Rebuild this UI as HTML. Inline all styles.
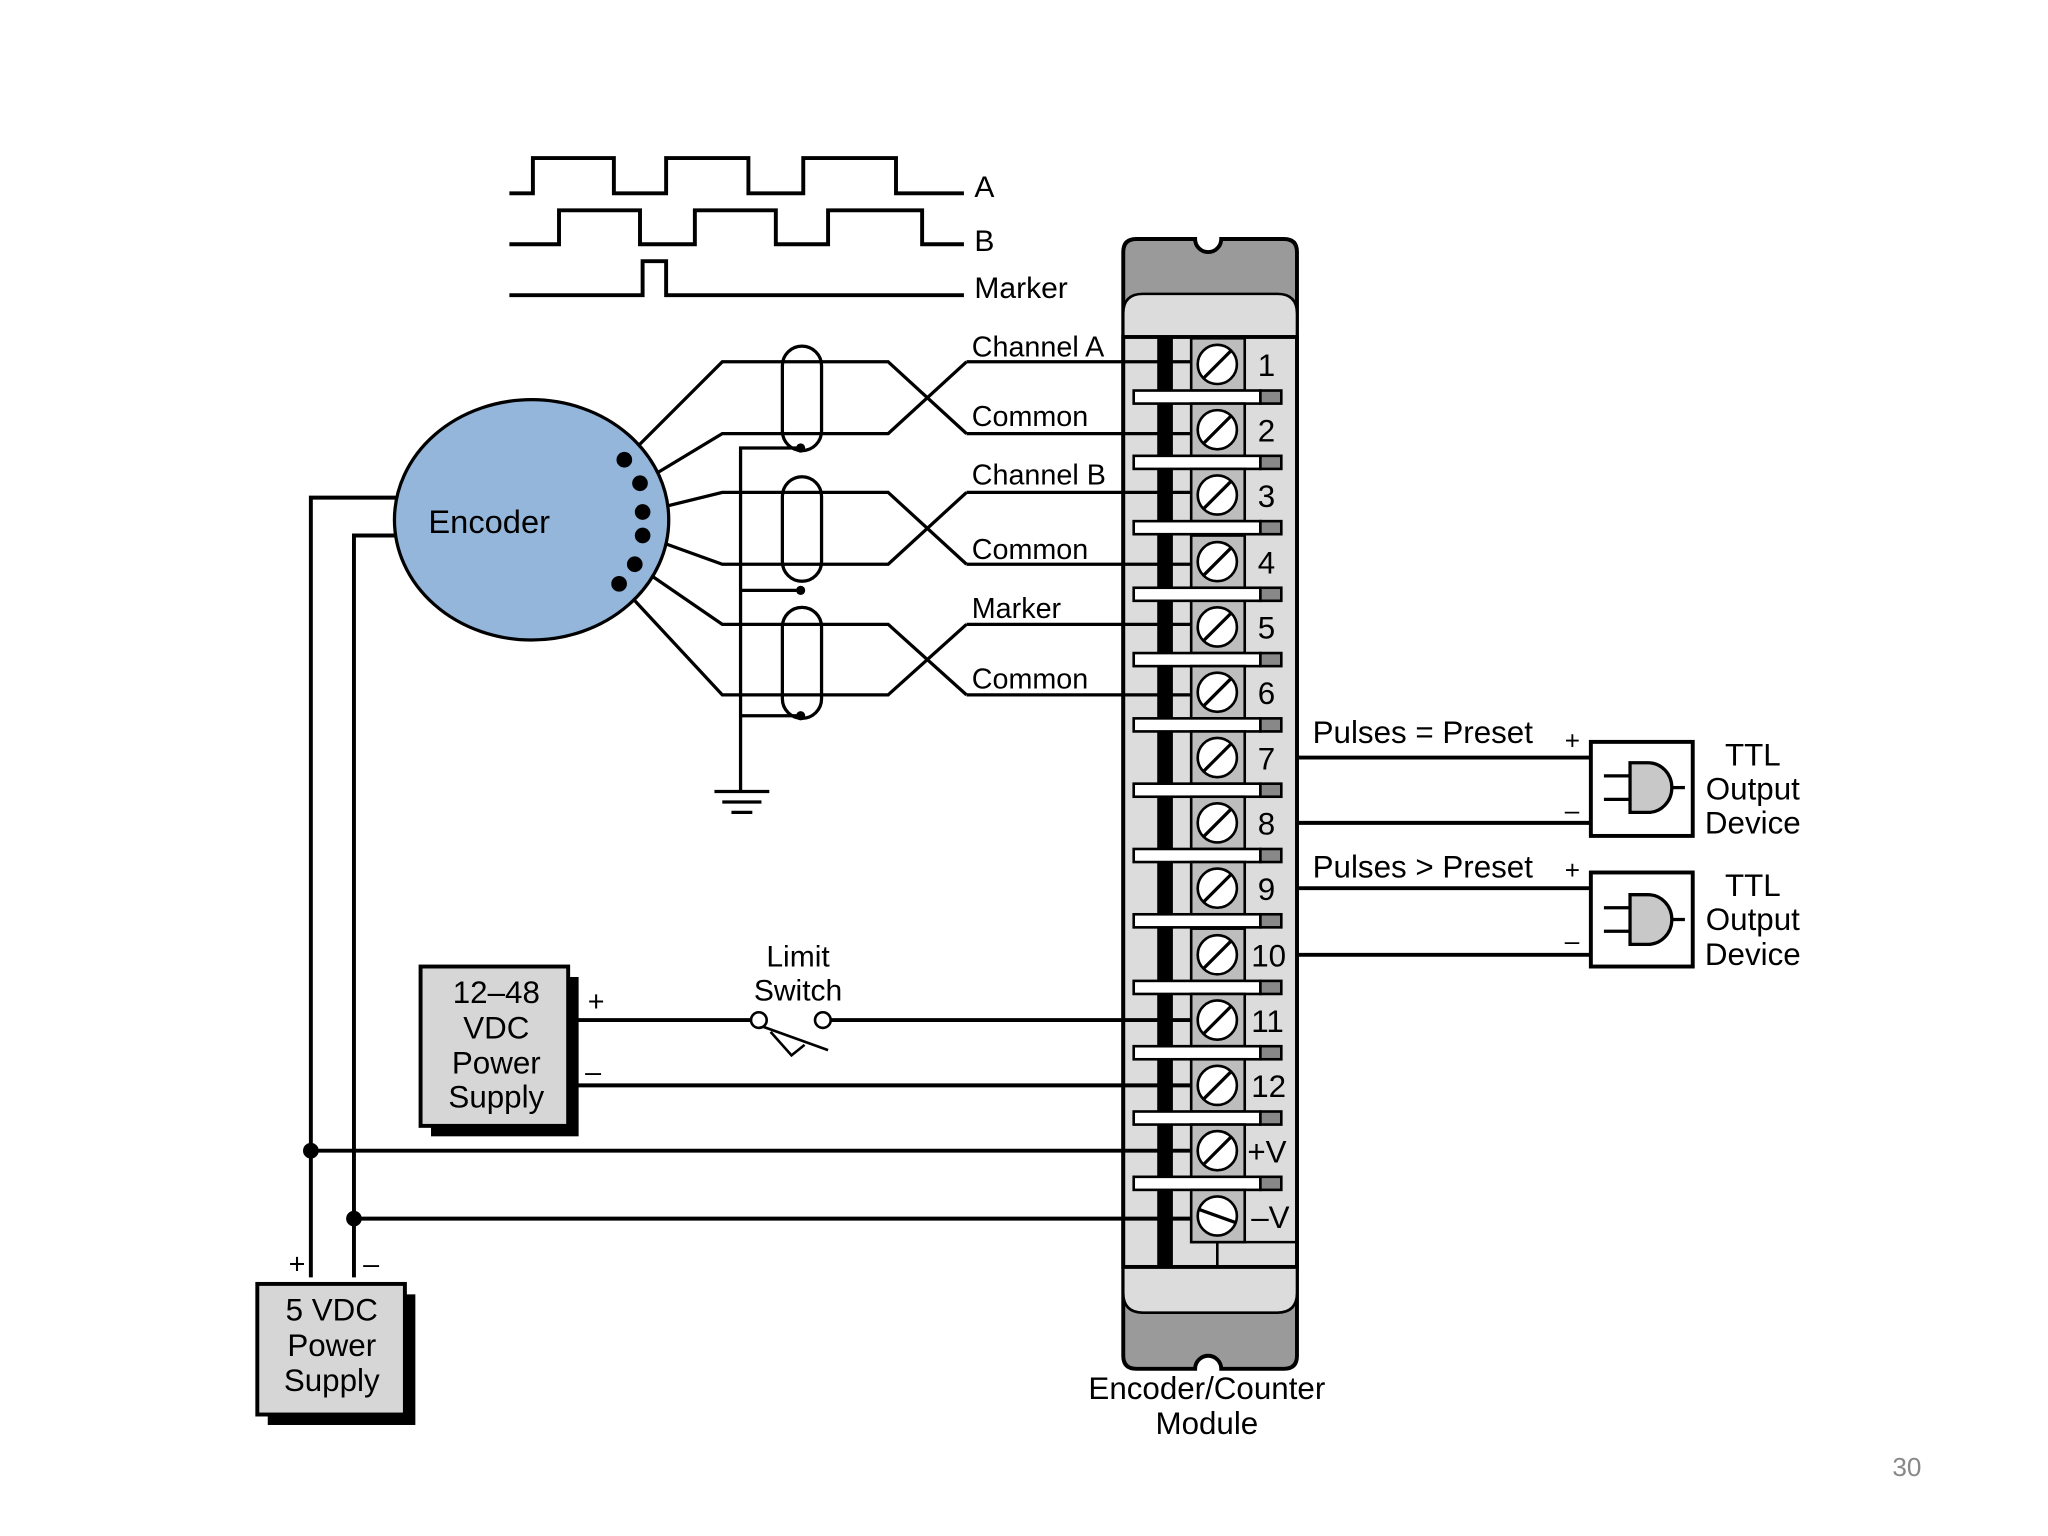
<!DOCTYPE html>
<html><head><style>html,body{margin:0;padding:0;background:#fff}svg{display:block}</style></head><body>
<svg width="2048" height="1536" viewBox="0 0 1568 1176" preserveAspectRatio="none" xmlns="http://www.w3.org/2000/svg" font-family="Liberation Sans, sans-serif">
<defs>
<g id="t"><rect x="912" y="-20" width="41" height="40" fill="#bdbdbd" stroke="#000" stroke-width="2"/><circle cx="932" cy="0" r="15" fill="#fff" stroke="#000" stroke-width="2"/><line x1="922" y1="10" x2="942" y2="-10" stroke="#000" stroke-width="2.5"/><rect x="868" y="20" width="97" height="10" fill="#fff" stroke="#000" stroke-width="2"/><rect x="965" y="20" width="16" height="10" fill="#888" stroke="#000" stroke-width="2"/></g>
</defs>
<rect width="1568" height="1176" fill="#fff"/>
<g fill="none" stroke="#000" stroke-width="3">
<polyline points="390,148 408,148 408,121 470,121 470,148 510,148 510,121 573,121 573,148 615,148 615,121 686,121 686,148 738,148"/>
<polyline points="390,187 428,187 428,161 490,161 490,187 532,187 532,161 594,161 594,187 634,187 634,161 706,161 706,187 738,187"/>
<polyline points="390,226 492,226 492,200 510,200 510,226 738,226"/>
</g>
<g font-size="23" fill="#000">
<text x="746" y="151">A</text><text x="746" y="192">B</text><text x="746" y="228">Marker</text>
<text x="744" y="273" font-size="22">Channel A</text><text x="744" y="326" font-size="22">Common</text>
<text x="744" y="371" font-size="22">Channel B</text><text x="744" y="428" font-size="22">Common</text>
<text x="744" y="473" font-size="22">Marker</text><text x="744" y="527" font-size="22">Common</text>
</g>
<!-- module -->
<path d="M870,183 H915 A10,10 0 0 0 935,183 H983 Q993,183 993,193 V1038 Q993,1048 983,1048 H935 A10,10 0 0 0 915,1048 H870 Q860,1048 860,1038 V193 Q860,183 870,183 Z" fill="#9a9a9a" stroke="#000" stroke-width="3"/>
<path d="M860,240 Q860,225 875,225 H978 Q993,225 993,240 V258 H860 Z" fill="#dcdcdc" stroke="#000" stroke-width="2"/>
<path d="M860,970 H993 V990 Q993,1005 978,1005 H875 Q860,1005 860,990 Z" fill="#dcdcdc" stroke="#000" stroke-width="2"/>
<rect x="860" y="258" width="133" height="712" fill="#dcdcdc" stroke="#000" stroke-width="3"/>
<rect x="886" y="258" width="12" height="712" fill="#000"/>
<g fill="none" stroke="#000" stroke-width="2"><line x1="932" y1="951" x2="932" y2="970"/><line x1="912" y1="951" x2="993" y2="951"/></g>
<!-- wires to terminals -->
<g stroke="#000" stroke-width="2.5" fill="none">
<line x1="740" y1="277" x2="912" y2="277"/><line x1="740" y1="332" x2="912" y2="332"/>
<line x1="740" y1="377" x2="912" y2="377"/><line x1="740" y1="432" x2="912" y2="432"/>
<line x1="740" y1="478" x2="912" y2="478"/><line x1="740" y1="532" x2="912" y2="532"/>
<polyline points="478,352 553,277 680,277 740,332"/><polyline points="490,370 553,332 680,332 740,277"/>
<polyline points="492,392 553,377 680,377 740,432"/><polyline points="492,410 553,432 680,432 740,377"/>
<polyline points="486,432 553,478 680,478 740,532"/><polyline points="474,447 553,532 680,532 740,478"/>
<rect x="599" y="265" width="30" height="80" rx="15" fill="none"/>
<rect x="599" y="365" width="30" height="80" rx="15" fill="none"/>
<rect x="599" y="465" width="30" height="85" rx="15" fill="none"/>
<polyline points="613,343 567,343 567,605"/><line x1="567" y1="452" x2="613" y2="452"/><line x1="567" y1="548" x2="613" y2="548"/>
<line x1="547" y1="606" x2="589" y2="606"/><line x1="553" y1="614" x2="583" y2="614"/><line x1="560" y1="622" x2="576" y2="622"/>
</g>
<g fill="#000"><circle cx="613" cy="343" r="3.5"/><circle cx="613" cy="452" r="3.5"/><circle cx="613" cy="548" r="3.5"/></g>
<!-- encoder -->
<ellipse cx="407" cy="398" rx="105" ry="92" fill="#93b6da" stroke="#000" stroke-width="2.5"/>
<text x="328" y="408" font-size="25">Encoder</text>
<g fill="#000"><circle cx="478" cy="352" r="6"/><circle cx="490" cy="370" r="6"/><circle cx="492" cy="392" r="6"/><circle cx="492" cy="410" r="6"/><circle cx="486" cy="432" r="6"/><circle cx="474" cy="447" r="6"/></g>
<!-- power lines -->
<g stroke="#000" stroke-width="3" fill="none">
<polyline points="303,381 238,381 238,978"/><polyline points="303,410 271,410 271,978"/>
<line x1="238" y1="881" x2="912" y2="881"/><line x1="271" y1="933" x2="912" y2="933"/>
<line x1="440" y1="781" x2="575" y2="781"/><line x1="636" y1="781" x2="912" y2="781"/>
<line x1="440" y1="831" x2="912" y2="831"/>
<line x1="993" y1="580" x2="1218" y2="580"/><line x1="993" y1="630" x2="1218" y2="630"/>
<line x1="993" y1="680" x2="1218" y2="680"/><line x1="993" y1="731" x2="1218" y2="731"/>
</g>
<g fill="#000"><circle cx="238" cy="881" r="6"/><circle cx="271" cy="933" r="6"/></g>
<!-- switch -->
<g stroke="#000" stroke-width="2" fill="#fff"><circle cx="581" cy="781" r="6"/><circle cx="630" cy="781" r="6"/><line x1="584" y1="786" x2="634" y2="804"/><polyline points="590,790 606,808 616,800" fill="none"/></g>
<text x="611" y="740" font-size="23" text-anchor="middle">Limit</text><text x="611" y="766" font-size="23" text-anchor="middle">Switch</text>
<!-- supplies -->
<rect x="330" y="748" width="113" height="122" fill="#000"/>
<rect x="322" y="740" width="113" height="122" fill="#d6d6d6" stroke="#000" stroke-width="3"/>
<g font-size="24" text-anchor="middle"><text x="380" y="768">12–48</text><text x="380" y="795">VDC</text><text x="380" y="822">Power</text><text x="380" y="848">Supply</text></g>
<text x="450" y="774" font-size="22">+</text><text x="448" y="828" font-size="22">–</text>
<rect x="205" y="991" width="113" height="100" fill="#000"/>
<rect x="197" y="983" width="113" height="100" fill="#d6d6d6" stroke="#000" stroke-width="3"/>
<g font-size="24" text-anchor="middle"><text x="254" y="1011">5 VDC</text><text x="254" y="1038">Power</text><text x="254" y="1065">Supply</text></g>
<text x="221" y="975" font-size="22">+</text><text x="278" y="975" font-size="22">–</text>
<!-- terminals -->
<use href="#t" y="279"/><use href="#t" y="329"/><use href="#t" y="379"/><use href="#t" y="430"/><use href="#t" y="480"/><use href="#t" y="530"/><use href="#t" y="580"/><use href="#t" y="630"/><use href="#t" y="680"/><use href="#t" y="731"/><use href="#t" y="781"/><use href="#t" y="831"/><use href="#t" y="881"/>
<g><rect x="912" y="911" width="41" height="40" fill="#bdbdbd" stroke="#000" stroke-width="2"/><circle cx="932" cy="931" r="15" fill="#fff" stroke="#000" stroke-width="2"/><line x1="918" y1="926" x2="946" y2="936" stroke="#000" stroke-width="2.5"/></g>
<g font-size="24"><text x="963" y="288">1</text><text x="963" y="338">2</text><text x="963" y="388">3</text><text x="963" y="439">4</text><text x="963" y="489">5</text><text x="963" y="539">6</text><text x="963" y="589">7</text><text x="963" y="639">8</text><text x="963" y="689">9</text><text x="958" y="740">10</text><text x="958" y="790">11</text><text x="958" y="840">12</text><text x="955" y="890">+V</text><text x="958" y="940">–V</text></g>
<text x="924" y="1071" font-size="24" text-anchor="middle">Encoder/Counter</text><text x="924" y="1098" font-size="24" text-anchor="middle">Module</text>
<!-- outputs -->
<text x="1005" y="569" font-size="24">Pulses = Preset</text><text x="1198" y="574" font-size="20">+</text><text x="1198" y="627" font-size="20">–</text>
<text x="1005" y="672" font-size="24">Pulses &gt; Preset</text><text x="1198" y="673" font-size="20">+</text><text x="1198" y="727" font-size="20">–</text>
<g stroke="#000" stroke-width="3" fill="#fff"><rect x="1218" y="568" width="78" height="72"/><rect x="1218" y="668" width="78" height="72"/></g>
<g stroke="#000" stroke-width="2.5" fill="#c8c8c8">
<path d="M1248,584 H1262 A18,19 0 0 1 1262,622 H1248 Z"/><line x1="1228" y1="594" x2="1248" y2="594"/><line x1="1228" y1="612" x2="1248" y2="612"/><line x1="1280" y1="603" x2="1290" y2="603"/>
<path d="M1248,685 H1262 A18,19 0 0 1 1262,723 H1248 Z"/><line x1="1228" y1="695" x2="1248" y2="695"/><line x1="1228" y1="713" x2="1248" y2="713"/><line x1="1280" y1="704" x2="1290" y2="704"/>
</g>
<g font-size="24" text-anchor="middle"><text x="1342" y="586">TTL</text><text x="1342" y="612">Output</text><text x="1342" y="638">Device</text><text x="1342" y="686">TTL</text><text x="1342" y="712">Output</text><text x="1342" y="739">Device</text></g>
<text x="1460" y="1130" font-size="20" fill="#888" text-anchor="middle">30</text>
</svg>
</body></html>
